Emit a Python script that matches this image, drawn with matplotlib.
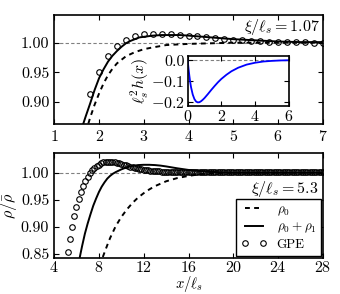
import matplotlib
matplotlib.use('Agg')
import matplotlib.pyplot as plt
import numpy as np

plt.rcParams['font.family'] = 'serif'
plt.rcParams['font.serif'] = ['cmr10', 'DejaVu Serif']
plt.rcParams['mathtext.fontset'] = 'cm'
plt.rcParams['axes.formatter.use_mathtext'] = True
plt.rcParams['font.size'] = 11.5
plt.rcParams['xtick.direction'] = 'in'
plt.rcParams['ytick.direction'] = 'in'
plt.rcParams['xtick.top'] = True
plt.rcParams['ytick.right'] = True

# ---- panel a: xi/l_s = 1.07 ----
x_rho0_a = [1.7, 1.8, 1.9, 2.0, 2.1, 2.2, 2.3, 2.4, 2.6, 2.8, 3.0, 3.2, 3.5, 4.0, 4.5, 5.0, 6.0, 7.0]
rho0_a = [0.848, 0.873, 0.895, 0.914, 0.931, 0.945, 0.956, 0.965, 0.977, 0.984, 0.989, 0.992,
          0.996, 0.998, 0.999, 1.0, 1.0, 1.0]

x_rho1_a = [1.6, 1.7, 1.8, 1.9, 2.0, 2.1, 2.2, 2.3, 2.4, 2.5, 2.6, 2.7, 2.8, 2.9, 3.0, 3.2,
            3.4, 3.6, 3.8, 4.0, 4.5, 5.0, 5.5, 6.0, 6.5, 7.0]
rho01_a = [0.852, 0.875, 0.897, 0.920, 0.940, 0.955, 0.968, 0.978, 0.986, 0.993, 0.999, 1.003,
           1.006, 1.009, 1.010, 1.012, 1.013, 1.013, 1.013, 1.012, 1.009, 1.006, 1.004, 1.002,
           1.001, 1.001]

x_gpe_a = [1.8, 2.0, 2.2, 2.4, 2.6, 2.8, 3.0, 3.2, 3.4, 3.6, 3.8, 4.0, 4.2, 4.4, 4.6, 4.8,
           5.0, 5.2, 5.4, 5.6, 5.8, 6.0, 6.2, 6.4, 6.6, 6.8, 7.0]
gpe_a = [0.913, 0.951, 0.978, 0.995, 1.005, 1.011, 1.014, 1.015, 1.015, 1.014, 1.013, 1.012,
         1.011, 1.009, 1.008, 1.006, 1.005, 1.004, 1.003, 1.003, 1.002, 1.002, 1.001, 1.001,
         1.001, 1.000, 1.000]

# inset: l_s^2 h(x)
x_h = [0, 0.05, 0.1, 0.15, 0.2, 0.3, 0.4, 0.5, 0.6, 0.7, 0.8, 0.9, 1.0, 1.2, 1.4, 1.6, 1.8,
       2.0, 2.3, 2.6, 3.0, 3.5, 4.0, 4.5, 5.0, 5.5, 6.0]
h_vals = [0, -0.04, -0.075, -0.105, -0.13, -0.165, -0.187, -0.199, -0.203, -0.202, -0.197,
          -0.190, -0.182, -0.163, -0.143, -0.124, -0.106, -0.090, -0.070, -0.053, -0.036,
          -0.021, -0.012, -0.006, -0.003, -0.001, 0.0]

# ---- panel b: xi/l_s = 5.3 ----
x_rho0_b = [8.35, 8.75, 9.0, 9.5, 10.0, 10.5, 11.0, 11.5, 12.0, 12.5, 13.0, 14.0, 15.0, 16.0,
            17.0, 18.0, 19.0, 20.0, 24.0, 28.0]
rho0_b = [0.844, 0.866, 0.879, 0.901, 0.918, 0.932, 0.944, 0.954, 0.962, 0.969, 0.975, 0.984,
          0.990, 0.994, 0.997, 0.999, 0.9995, 1.0, 1.0, 1.0]

x_rho1_b = [6.3, 6.5, 6.75, 7.0, 7.25, 7.5, 7.75, 8.0, 8.25, 8.5, 8.75, 9.0, 9.25, 9.5, 10.0,
            10.5, 11.0, 11.5, 12.0, 12.5, 13.0, 13.5, 14.0, 15.0, 16.0, 17.0, 18.0, 19.0,
            20.0, 24.0, 28.0]
rho01_b = [0.844, 0.864, 0.887, 0.906, 0.923, 0.939, 0.952, 0.964, 0.974, 0.982, 0.989, 0.994,
           0.998, 1.001, 1.006, 1.010, 1.0125, 1.014, 1.0145, 1.0145, 1.014, 1.013, 1.0115,
           1.008, 1.005, 1.003, 1.0015, 1.0005, 1.0, 1.0, 1.0]

x_gpe_b = np.round(np.arange(5.2, 28.01, 0.2), 1)
gpe_b = [0.854, 0.878, 0.899, 0.919, 0.936, 0.951, 0.964, 0.975, 0.984, 0.992,
         0.999, 1.004, 1.009, 1.012, 1.015, 1.017, 1.019, 1.0195, 1.020, 1.020,
         1.0195, 1.019, 1.018, 1.017, 1.016, 1.015, 1.0135, 1.012, 1.011, 1.010,
         1.009, 1.008, 1.007, 1.006, 1.005, 1.0045, 1.004, 1.0035, 1.003, 1.003,
         1.0025, 1.0025, 1.002, 1.002, 1.002,
         1.002, 1.002, 1.002, 1.002, 1.002, 1.002, 1.002, 1.002, 1.002, 1.002,
         1.0015, 1.0015, 1.0015, 1.0015, 1.0015, 1.0015, 1.0015, 1.0015, 1.0015, 1.0015,
         1.0015, 1.0015, 1.0015, 1.0015, 1.0015, 1.0015, 1.0015, 1.0015, 1.0015, 1.0015,
         1.001, 1.001, 1.001, 1.001, 1.001, 1.001, 1.001, 1.001, 1.001, 1.001,
         1.001, 1.001, 1.001, 1.001, 1.001, 1.001, 1.001, 1.001, 1.001, 1.001,
         1.001, 1.001, 1.001, 1.001, 1.001, 1.001, 1.001, 1.001, 1.001, 1.001,
         1.001, 1.001, 1.001, 1.001, 1.001, 1.001, 1.001, 1.001, 1.001, 1.001]

fig = plt.figure(figsize=(3.4, 2.94), dpi=100)
ax1 = fig.add_axes([0.160, 0.578, 0.789, 0.371])
ax2 = fig.add_axes([0.159, 0.124, 0.791, 0.355])

dash = (0, (2.5, 2.2))
mk = dict(ls='none', marker='o', ms=4.0, mfc='none', mec='k', mew=0.8)

# top
ax1.axhline(1.0, color='gray', lw=0.8, ls=(0, (3, 2)), zorder=1)
ax1.plot(x_rho0_a, rho0_a, color='k', lw=1.4, ls=dash)
ax1.plot(x_rho1_a, rho01_a, color='k', lw=1.4)
ax1.plot(x_gpe_a, gpe_a, **mk)
ax1.set_xlim(1, 7)
ax1.set_ylim(0.862, 1.047)
ax1.set_xticks([1, 2, 3, 4, 5, 6, 7])
ax1.set_yticks([0.90, 0.95, 1.00])
ax1.set_yticklabels(['0.90', '0.95', '1.00'])
ax1.text(0.99, 0.89, r'$\xi/\ell_s = 1.07$', transform=ax1.transAxes, ha='right', va='center')
for s in ax1.spines.values():
    s.set_linewidth(1.2)

# inset
axi = fig.add_axes([0.552, 0.639, 0.297, 0.172])
axi.axhline(0.0, color='gray', lw=0.8, ls=(0, (3, 2)), zorder=1)
axi.plot(x_h, h_vals, color='b', lw=1.3)
axi.set_xlim(0, 6)
axi.set_ylim(-0.221, 0.0226)
axi.set_xticks([0, 2, 4, 6])
axi.set_yticks([0.0, -0.1, -0.2])
axi.set_yticklabels(['0.0', r'$-0.1$', r'$-0.2$'])
axi.set_ylabel(r'$\ell_s^2 h(x)$', labelpad=0)
axi.tick_params(pad=2)
for s in axi.spines.values():
    s.set_linewidth(1.2)

# bottom
ax2.axhline(1.0, color='gray', lw=0.8, ls=(0, (3, 2)), zorder=1)
ax2.plot(x_rho0_b, rho0_b, color='k', lw=1.4, ls=dash, label=r'$\rho_0$')
ax2.plot(x_rho1_b, rho01_b, color='k', lw=1.4, label=r'$\rho_0+\rho_1$')
ax2.plot(x_gpe_b, gpe_b, label='GPE', **mk)
ax2.set_xlim(4, 28)
ax2.set_ylim(0.843, 1.036)
ax2.set_xticks([4, 8, 12, 16, 20, 24, 28])
ax2.set_yticks([0.85, 0.90, 0.95, 1.00])
ax2.set_yticklabels(['0.85', '0.90', '0.95', '1.00'])
ax2.tick_params(axis='x', pad=2)
ax2.text(0.985, 0.66, r'$\xi/\ell_s = 5.3$', transform=ax2.transAxes, ha='right', va='center')
ax2.set_xlabel(r'$x/\ell_s$', labelpad=-1, fontsize=10.5)
ax2.set_ylabel(r'$\rho/\bar{\rho}$', labelpad=1)
leg = ax2.legend(loc='lower right', numpoints=2, fontsize=9.5, fancybox=False,
                 edgecolor='k', framealpha=1, borderaxespad=0.15, handlelength=2.0,
                 labelspacing=0.25, borderpad=0.35, handletextpad=0.7)
leg.get_frame().set_linewidth(1.0)
for s in ax2.spines.values():
    s.set_linewidth(1.2)

fig.savefig('out.png', dpi=100)
